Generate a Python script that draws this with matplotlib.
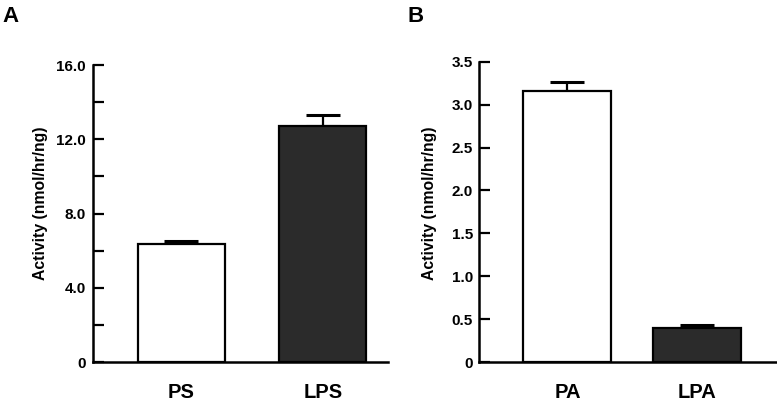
import numpy as np
import matplotlib.pyplot as plt
from matplotlib.ticker import FixedLocator

plt.rcParams['font.family'] = ['Liberation Sans', 'DejaVu Sans']
plt.rcParams['font.weight'] = 'bold'

# panel A
cats_a = ["PS", "LPS"]
vals_a = [6.36, 12.73]
errs_a = [0.17, 0.59]
ticks_a = [0, 4, 8, 12, 16]
ticklabels_a = ["0", "4.0", "8.0", "12.0", "16.0"]
minor_a = [2, 6, 10, 14]
# panel B
cats_b = ["PA", "LPA"]
vals_b = [3.16, 0.40]
errs_b = [0.11, 0.035]
ticks_b = [0, 0.5, 1.0, 1.5, 2.0, 2.5, 3.0, 3.5]
ticklabels_b = ["0", "0.5", "1.0", "1.5", "2.0", "2.5", "3.0", "3.5"]

colors = ["white", "#2b2b2b"]
ylabel = "Activity (nmol/hr/ng)"

fig = plt.figure(figsize=(7.77, 4.03), dpi=100)
ax_a = fig.add_axes([0.1197, 0.1017, 0.3797, 0.737])
ax_b = fig.add_axes([0.6165, 0.1017, 0.3835, 0.745])


def panel(ax, cats, vals, errs, width, xlim, ylim, ticks, ticklabels):
    x = np.arange(len(cats))
    ax.bar(x, vals, width=width, color=colors, edgecolor="black", linewidth=1.6, zorder=3)
    ax.errorbar(x, vals, yerr=[np.zeros(len(errs)), errs], fmt="none", ecolor="black",
                elinewidth=1.6, capsize=12, capthick=2.2, zorder=2)
    ax.set_xlim(*xlim)
    ax.set_xticks(x)
    ax.set_xticklabels(cats, fontsize=14.5, fontweight="bold")
    ax.yaxis.set_major_locator(FixedLocator(ticks))
    ax.set_yticklabels(ticklabels)
    ax.set_ylim(*ylim)
    ax.tick_params(axis="x", length=0, pad=15)
    ax.tick_params(axis="y", which="both", direction="in", length=8, width=1.6,
                   labelsize=11)
    for s in ["top", "right"]:
        ax.spines[s].set_visible(False)
    for s in ["left", "bottom"]:
        ax.spines[s].set_linewidth(1.8)
    ax.set_ylabel(ylabel, fontsize=11.3, fontweight="bold")


panel(ax_a, cats_a, vals_a, errs_a, 0.615, (-0.625, 1.46), (0, 16), ticks_a, ticklabels_a)
ax_a.yaxis.set_minor_locator(FixedLocator(minor_a))
ax_a.tick_params(axis="y", pad=5)
ax_a.yaxis.set_label_coords(-0.153, 0.535)

panel(ax_b, cats_b, vals_b, errs_b, 0.68, (-0.683, 1.62), (0, 3.5), ticks_b, ticklabels_b)
ax_b.tick_params(axis="y", pad=4.5)
ax_b.yaxis.set_label_coords(-0.141, 0.53)

fig.text(0.003, 0.985, "A", fontsize=16, fontweight="bold", va="top", ha="left")
fig.text(0.525, 0.985, "B", fontsize=16, fontweight="bold", va="top", ha="left")

fig.savefig("out.png", dpi=100)
